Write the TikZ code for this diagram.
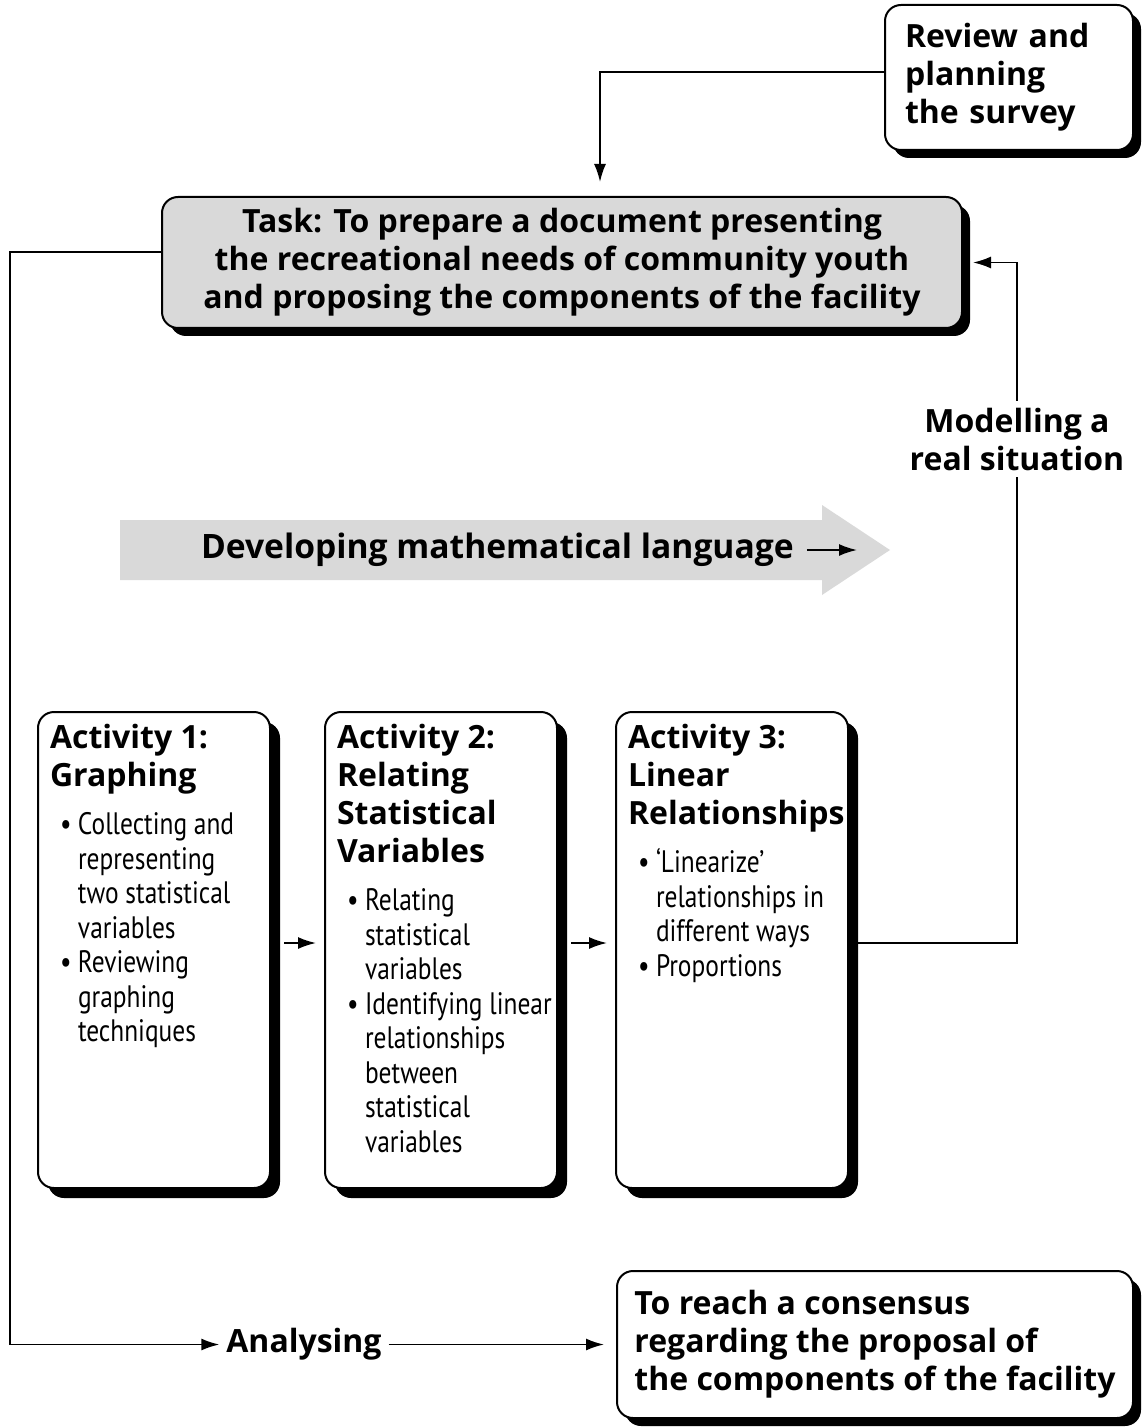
\documentclass[tikz,border=0pt]{standalone}
\usepackage{fontspec}
\setmainfont{Open Sans}
\newfontfamily\condfont[FakeStretch=0.82]{PT Sans}
\usetikzlibrary{arrows.meta,shadows,positioning}

\newcommand{\hdfont}{\bfseries\fontsize{16}{19}\selectfont}
\newcommand{\bdfont}{\mdseries\condfont\fontsize{15.5}{17.25}\selectfont}
\newcommand{\bul}[1]{\par\noindent\hangindent=14pt\hangafter=1\makebox[14pt][l]{\hspace{5pt}\textbullet}#1\par}

\begin{document}
\begin{tikzpicture}[x=0.5pt, y=-0.5pt,
    every node/.style={font=\hdfont},
    blackshadow/.style={drop shadow={shadow xshift=#1, shadow yshift=-#1, fill=black, opacity=1}},
    box/.style={draw, line width=1pt, rounded corners=8pt, fill=white, blackshadow=4pt},
    actbox/.style={draw, line width=1pt, rounded corners=8pt, fill=white, blackshadow=5pt, inner xsep=4pt, inner ysep=4pt},
    line/.style={-{Latex[length=9pt,width=6pt]}, line width=0.9pt}]
    \useasboundingbox (0,0) rectangle (1142,1427);

    % Nodes
    \node (rev) [box, text width=104pt, inner xsep=10pt, minimum height=72.5pt, align=left] at (1009,77.5) {Review and\\ planning\\ the survey};
    \node (task) [box, fill=gray!30, minimum width=400pt, minimum height=65.5pt, align=center] at (562,262.5)
        {Task: To prepare a document presenting\\ the recreational needs of community youth\\ and proposing the components of the facility};
    \node (mod) [align=center] at (1017,439) {Modelling a\\ real situation};

    \fill [gray!30] (120,520) -- (822,520) -- (822,505) -- (890,550) -- (822,595) -- (822,580) -- (120,580) -- cycle;
    \node (dev) [anchor=west, font=\bfseries\fontsize{16.8}{20}\selectfont] at (194,550) {Developing mathematical language};
    \coordinate (devtip) at (857,550);

    \node (act1) [actbox] at (154,950) {\parbox[t][230pt][t]{108pt}{\raggedright\leftskip=2pt\vspace*{2pt}Activity 1:\\ Graphing\par\vspace{7pt}\bdfont
        \bul{Collecting and\newline representing\newline two statistical\newline variables}
        \bul{Reviewing\newline graphing\newline techniques}}};
    \node (act2) [actbox] at (441,950) {\parbox[t][230pt][t]{108pt}{\raggedright\leftskip=2pt\vspace*{2pt}Activity 2:\\ Relating\\ Statistical\\ Variables\par\vspace{7pt}\bdfont
        \bul{Relating\newline statistical\newline variables}
        \bul{\mbox{Identifying linear}\newline relationships\newline between\newline statistical\newline variables}}};
    \node (act3) [actbox] at (732,950) {\parbox[t][230pt][t]{108pt}{\raggedright\leftskip=2pt\vspace*{2pt}Activity 3:\\ Linear\\ Relationships\par\vspace{7pt}\bdfont
        \bul{‘Linearize’\newline relationships in\newline different ways}
        \bul{Proportions}}};

    \node (ana) at (304,1344.5) {Analysing};
    \node (cons) [box, minimum width=258pt, minimum height=73.5pt, align=left] at (875,1344.5)
        {To reach a consensus\\ regarding the proposal of\\ the components of the facility};

    \coordinate (revdrop) at (600,0);
    \coordinate (loopcorner) at (10,252);

    % Arrows
    \draw [line, shorten >=7pt] (rev.west |- 0,72) -| (task.north -| revdrop);
    \draw [line] (task.west |- loopcorner) -- (loopcorner) |- (ana.west);
    \draw [line, shorten >=6pt] (ana.east) -- (cons.west);
    \draw [line, shorten <=3pt] (dev.east) -- (devtip);
    \draw [line, shorten <=6.5pt, shorten >=4pt] ([yshift=3.5pt]act1.east) -- ([yshift=3.5pt]act2.west);
    \draw [line, shorten <=6.5pt, shorten >=4pt] ([yshift=3.5pt]act2.east) -- ([yshift=3.5pt]act3.west);
    \draw [line width=0.9pt] ([yshift=3.5pt]act3.east) -| (mod.south);
    \draw [line, shorten >=5pt] (mod.north) |- (task.east);
\end{tikzpicture}
\end{document}
